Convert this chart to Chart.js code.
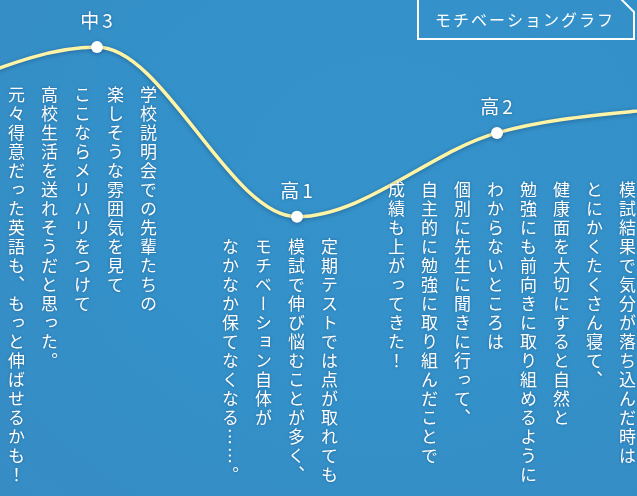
<!DOCTYPE html>
<html lang="ja">
<head>
<meta charset="utf-8">
<script src="https://cdn.jsdelivr.net/npm/chart.js@4"></script>
<style>
  html, body { margin: 0; padding: 0; }
  body {
    width: 637px; height: 496px; overflow: hidden; position: relative;
    background: radial-gradient(ellipse at 60% 35%, #3592ca 0%, #3490c8 55%, #378cc4 100%);
    font-family: "Noto Sans CJK JP", "Noto Sans", sans-serif;
  }
  #wrap { position: absolute; left: 0; top: 0; width: 637px; height: 496px; }
  #chart { display: block; width: 637px; height: 496px; }
  .note {
    position: absolute;
    writing-mode: vertical-rl;
    color: #fff;
    font-size: 17px;
    line-height: 33px;
    letter-spacing: 2px;
    white-space: pre;
    text-shadow: 0 0 3px rgba(10, 50, 100, 0.45);
  }
</style>
</head>
<body>
<div id="wrap"><canvas id="chart" width="637" height="496"></canvas></div>
<div class="note" id="note0" style="left:0px; top:86px;"></div>
<div class="note" id="note1" style="left:214px; top:238px;"></div>
<div class="note" id="note2" style="left:380px; top:181px;"></div>
<script>
// 時期（両端は画面外の補助点）
const stages = ['', '中3', '高1', '高2', ''];
const stagePos = [0, 1, 2, 3, 4];
const motivation = [78.8, 90.5, 56.3, 73.2, 79.0];

const notes = [
  ['学校説明会での先輩たちの', '楽しそうな雰囲気を見て', 'ここならメリハリをつけて', '高校生活を送れそうだと思った。', '元々得意だった英語も、もっと伸ばせるかも！'],
  ['定期テストでは点が取れても', '模試で伸び悩むことが多く、', 'モチベーション自体が', 'なかなか保てなくなる……。'],
  ['模試結果で気分が落ち込んだ時は', 'とにかくたくさん寝て、', '健康面を大切にすると自然と', '勉強にも前向きに取り組めるように', 'わからないところは', '個別に先生に聞きに行って、', '自主的に勉強に取り組んだことで', '成績も上がってきた！']
];
const title = 'モチベーショングラフ';

notes.forEach((lines, i) => {
  document.getElementById('note' + i).textContent = lines.join('\n');
});

const decor = {
  id: 'decor',
  beforeDatasetsDraw(chart) {
    const ctx = chart.ctx;
    ctx.save();
    ctx.shadowColor = 'rgba(0, 30, 70, 0.35)';
    ctx.shadowBlur = 4;
    ctx.shadowOffsetY = 1;
  },
  afterDatasetsDraw(chart) {
    chart.ctx.restore();
  },
  afterDraw(chart) {
    const ctx = chart.ctx;
    const meta = chart.getDatasetMeta(0);
    ctx.save();
    ctx.fillStyle = '#fff';
    ctx.textAlign = 'center';
    ctx.textBaseline = 'middle';
    ctx.font = '19px "Noto Sans CJK JP", sans-serif';
    ctx.letterSpacing = '3px';
    ctx.shadowColor = 'rgba(10, 50, 100, 0.4)';
    ctx.shadowBlur = 3;
    meta.data.forEach((pt, i) => {
      if (!stages[i]) return;
      ctx.fillText(stages[i], pt.x + 1, pt.y - 26);
    });
    // タイトル枠
    ctx.shadowBlur = 0;
    ctx.strokeStyle = '#fff';
    ctx.lineWidth = 2;
    ctx.beginPath();
    ctx.moveTo(418, -2);
    ctx.lineTo(620, -2);
    ctx.lineTo(634, 12);
    ctx.lineTo(634, 39);
    ctx.lineTo(418, 39);
    ctx.closePath();
    ctx.stroke();
    ctx.font = '16px "Noto Sans CJK JP", sans-serif';
    ctx.letterSpacing = '2px';
    ctx.fillText(title, 525, 20);
    ctx.restore();
  }
};

new Chart(document.getElementById('chart'), {
  type: 'line',
  data: {
    datasets: [{
      data: stagePos.map((x, i) => ({ x: x, y: motivation[i] })),
      borderColor: '#fff3a6',
      borderWidth: 3.5,
      cubicInterpolationMode: 'monotone',
      pointRadius: stages.map(s => s ? 6 : 0),
      pointBackgroundColor: '#fff',
      pointBorderWidth: 0,
      fill: false
    }]
  },
  options: {
    responsive: false,
    animation: false,
    devicePixelRatio: 1,
    layout: { padding: 0 },
    plugins: { legend: { display: false }, tooltip: { enabled: false } },
    scales: {
      x: { type: 'linear', display: false, min: 0.515, max: 3.7 },
      y: { display: false, min: 0, max: 100 }
    }
  },
  plugins: [decor]
});
</script>
</body>
</html>
